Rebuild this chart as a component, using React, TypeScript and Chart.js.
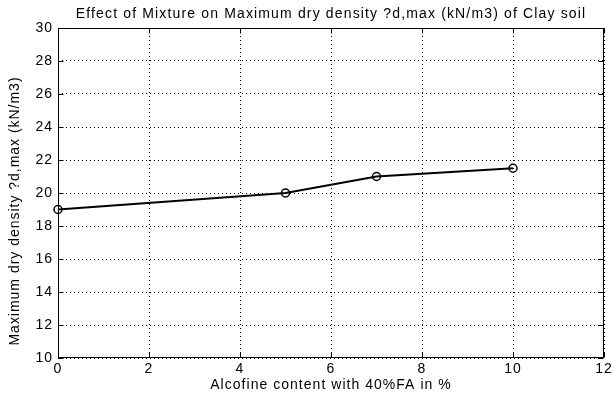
import React, { useEffect, useRef } from 'react';
import { Chart, registerables } from 'chart.js';

Chart.register(...registerables);

// ---- data ----
const xValues: number[] = [0, 5, 7, 10];
const yValues: number[] = [19, 20, 21, 21.5];
const xTickValues: number[] = [0, 2, 4, 6, 8, 10, 12];
const yTickValues: number[] = [10, 12, 14, 16, 18, 20, 22, 24, 26, 28, 30];
const chartTitle = 'Effect of Mixture on Maximum dry density ?d,max (kN/m3) of Clay soil';
const xAxisTitle = 'Alcofine content with 40%FA in %';
const yAxisTitle = 'Maximum dry density ?d,max (kN/m3)';

const FONT = '14px "Liberation Sans", Arial, Helvetica, sans-serif';

function setSpacing(ctx: CanvasRenderingContext2D, px: number) {
  (ctx as any).letterSpacing = px + 'px';
}

const matlabPlugin = {
  id: 'matlabAxes',
  beforeDatasetsDraw(chart: any) {
    const { ctx, chartArea } = chart;
    const { left, right, top, bottom } = chartArea;
    const xs = chart.scales.x;
    const ys = chart.scales.y;
    ctx.save();
    ctx.setLineDash([]);
    ctx.strokeStyle = '#000';
    ctx.lineWidth = 1;
    const L = Math.round(left) + 0.5;
    const R = Math.round(right) - 0.5;
    const T = Math.round(top) + 0.5;
    const B = Math.round(bottom) - 0.5;
    ctx.beginPath();
    ctx.rect(L, T, R - L, B - T);
    ctx.stroke();
    const tl = 5;
    ctx.beginPath();
    xs.ticks.forEach((t: any) => {
      const px = Math.round(xs.getPixelForValue(t.value)) + 0.5;
      ctx.moveTo(px, B);
      ctx.lineTo(px, B - tl);
      ctx.moveTo(px, T);
      ctx.lineTo(px, T + tl);
    });
    ys.ticks.forEach((t: any) => {
      const py = Math.round(ys.getPixelForValue(t.value)) + 0.5;
      ctx.moveTo(L, py);
      ctx.lineTo(L + tl, py);
      ctx.moveTo(R, py);
      ctx.lineTo(R - tl, py);
    });
    ctx.stroke();
    ctx.restore();
  },
  afterDraw(chart: any) {
    const { ctx, chartArea } = chart;
    const { left, right, top, bottom } = chartArea;
    const xs = chart.scales.x;
    const ys = chart.scales.y;
    const cx = (left + right) / 2;
    ctx.save();
    ctx.fillStyle = '#000';
    ctx.font = FONT;

    // title
    setSpacing(ctx, 1.15);
    ctx.textAlign = 'center';
    ctx.textBaseline = 'alphabetic';
    ctx.fillText(chartTitle, cx, 18);

    // x tick labels
    setSpacing(ctx, 1);
    ctx.textAlign = 'center';
    ctx.textBaseline = 'alphabetic';
    xs.ticks.forEach((t: any) => {
      ctx.fillText(String(t.value), xs.getPixelForValue(t.value), bottom + 15);
    });

    // y tick labels
    ctx.textAlign = 'right';
    ctx.textBaseline = 'middle';
    ys.ticks.forEach((t: any) => {
      ctx.fillText(String(t.value), left - 5, ys.getPixelForValue(t.value));
    });

    // x axis title
    setSpacing(ctx, 1.03);
    ctx.textAlign = 'center';
    ctx.textBaseline = 'alphabetic';
    ctx.fillText(xAxisTitle, cx, 389);

    // y axis title
    setSpacing(ctx, 0.98);
    ctx.translate(15, 211);
    ctx.rotate(-Math.PI / 2);
    ctx.textAlign = 'center';
    ctx.textBaseline = 'middle';
    ctx.fillText(yAxisTitle, 0, 0);
    ctx.restore();
  },
};

export default function App() {
  const canvasRef = useRef<HTMLCanvasElement | null>(null);

  useEffect(() => {
    const canvas = canvasRef.current;
    if (!canvas) return;
    const chart = new Chart(canvas, {
      type: 'line',
      data: {
        datasets: [
          {
            data: xValues.map((x, i) => ({ x, y: yValues[i] })),
            borderColor: '#000',
            borderWidth: 2,
            pointRadius: 4,
            pointBorderWidth: 1.5,
            pointBorderColor: '#000',
            pointBackgroundColor: 'rgba(0,0,0,0)',
            pointStyle: 'circle',
            tension: 0,
            fill: false,
            clip: false as any,
          },
        ],
      },
      options: {
        responsive: false,
        animation: false,
        devicePixelRatio: 1,
        layout: { padding: { top: 28, right: 9, bottom: 0, left: 0 } },
        plugins: {
          legend: { display: false },
          tooltip: { enabled: false },
          title: { display: false },
        },
        scales: {
          x: {
            type: 'linear',
            min: 0,
            max: 12,
            afterBuildTicks: (s: any) => {
              s.ticks = xTickValues.map((v) => ({ value: v }));
            },
            afterFit: (s: any) => {
              s.height = 35;
            },
            ticks: { display: false },
            grid: { color: '#000', lineWidth: 1, drawTicks: false },
            border: { display: false, dash: [1, 3] },
          },
          y: {
            type: 'linear',
            min: 10,
            max: 30,
            afterBuildTicks: (s: any) => {
              s.ticks = yTickValues.map((v) => ({ value: v }));
            },
            afterFit: (s: any) => {
              s.width = 58;
            },
            ticks: { display: false },
            grid: { color: '#000', lineWidth: 1, drawTicks: false },
            border: { display: false, dash: [1, 3] },
          },
        },
      },
      plugins: [matlabPlugin],
    });
    return () => chart.destroy();
  }, []);

  return (
    <div style={{ position: 'absolute', left: 0, top: 0, width: 613, height: 393, background: '#fff' }}>
      <canvas ref={canvasRef} width={613} height={393} style={{ display: 'block' }} />
    </div>
  );
}
